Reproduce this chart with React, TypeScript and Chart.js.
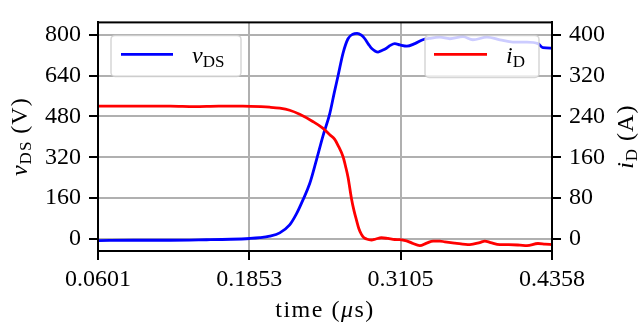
import { useEffect, useRef } from "react";
import { Chart, registerables } from "chart.js";

Chart.register(...registerables);

// ---- data (time in µs) ----
const timeV = [
  0.0601, 0.09, 0.12, 0.15, 0.17, 0.1856, 0.1939, 0.2022, 0.2105, 0.2187, 0.2243, 0.2298,
  0.2353, 0.2409, 0.2463, 0.2519, 0.2555, 0.2588, 0.2629, 0.267, 0.271, 0.2745, 0.278,
  0.2809, 0.284, 0.2864, 0.2919, 0.295, 0.2988, 0.302, 0.3057, 0.3099, 0.3157, 0.3223,
  0.3289, 0.334, 0.343, 0.3513, 0.3621, 0.3703, 0.3819, 0.3927, 0.4035, 0.4151, 0.4242,
  0.4283, 0.4358,
];
const vDS = [
  -6, -5, -5, -3, -1, 2, 5, 11, 24, 55, 98, 154,
  217, 310, 404, 491, 570, 640, 728, 784, 802, 805, 798,
  784, 762, 747, 732, 738, 747, 758, 765, 760, 755, 765,
  780, 785, 790, 784, 792, 780, 790, 780, 771, 771, 765,
  749, 747,
];

const timeI = [
  0.0601, 0.08, 0.1, 0.12, 0.14, 0.16, 0.18, 0.195, 0.2022, 0.2105, 0.2187, 0.227, 0.2378,
  0.2461, 0.2519, 0.256, 0.2588, 0.2629, 0.265, 0.267, 0.2698, 0.272, 0.274, 0.276, 0.2781,
  0.28, 0.2823, 0.2864, 0.29, 0.2946, 0.3, 0.3057, 0.3098, 0.3154, 0.32, 0.3264, 0.332,
  0.3375, 0.343, 0.3471, 0.3554, 0.3678, 0.376, 0.3802, 0.385, 0.3927, 0.4, 0.4093, 0.4151,
  0.4242, 0.43, 0.4358,
];
const iD = [
  260, 260, 260, 260, 259, 260, 260, 259, 258, 256, 252, 244, 230,
  217, 204, 195, 183, 161, 142, 121, 80, 55, 37, 20, 9,
  3, 0, -2, 0, 2.4, 1, -1, -1.3, -3.7, -8, -13, -8,
  -4, -4, -5.6, -8, -11, -7, -4, -7, -11, -11, -12, -13,
  -8.8, -10, -11,
];

const xTicks = [0.0601, 0.1853, 0.3105, 0.4358];
const xTickLabels = ["0.0601", "0.1853", "0.3105", "0.4358"];
const vTicks = [0, 160, 320, 480, 640, 800];
const iTicks = [0, 80, 160, 240, 320, 400];

const SERIF = '"Liberation Serif", "DejaVu Serif", serif';
const FS = 24;

type Seg = { t: string; it?: boolean; sub?: boolean };

function segFont(s: Seg, size: number) {
  const sz = s.sub ? Math.round(size * 0.7) : size;
  return `${s.it ? "italic " : ""}${sz}px ${SERIF}`;
}

function richWidth(ctx: CanvasRenderingContext2D, segs: Seg[], size: number, ls: number) {
  let w = 0;
  for (const s of segs) {
    ctx.font = segFont(s, size);
    w += ctx.measureText(s.t).width + ls * s.t.length;
  }
  return w;
}

function drawRich(
  ctx: CanvasRenderingContext2D,
  segs: Seg[],
  x: number,
  y: number,
  size: number,
  align: "left" | "center",
  ls = 0
) {
  const w = richWidth(ctx, segs, size, ls);
  let cx = align === "center" ? x - w / 2 : x;
  ctx.textAlign = "left";
  ctx.textBaseline = "alphabetic";
  for (const s of segs) {
    ctx.font = segFont(s, size);
    for (const ch of s.t) {
      ctx.fillText(ch, cx, y + (s.sub ? 4 : 0));
      cx += ctx.measureText(ch).width + ls;
    }
  }
}

function legendBox(
  ctx: CanvasRenderingContext2D,
  x: number,
  y: number,
  w: number,
  h: number,
  color: string,
  segs: Seg[],
  lineX0: number,
  lineX1: number,
  textX: number
) {
  ctx.save();
  ctx.beginPath();
  ctx.roundRect(x, y, w, h, 4);
  ctx.fillStyle = "rgba(255,255,255,0.8)";
  ctx.fill();
  ctx.strokeStyle = "rgba(204,204,204,0.8)";
  ctx.lineWidth = 1.5;
  ctx.stroke();
  ctx.beginPath();
  ctx.moveTo(x + lineX0, y + 19);
  ctx.lineTo(x + lineX1, y + 19);
  ctx.strokeStyle = color;
  ctx.lineWidth = 2.8;
  ctx.stroke();
  ctx.fillStyle = "#000";
  drawRich(ctx, segs, x + textX, y + 28, FS, "left");
  ctx.restore();
}

const overlay = {
  id: "overlay",
  afterDraw(chart: any) {
    const ctx: CanvasRenderingContext2D = chart.ctx;
    const a = chart.chartArea;
    ctx.save();
    ctx.strokeStyle = "#000";
    ctx.lineWidth = 2;
    ctx.strokeRect(a.left, a.top, a.right - a.left, a.bottom - a.top);

    legendBox(ctx, a.left + 13, a.top + 13, 130, 41, "#0000ff",
      [{ t: "v", it: true }, { t: "DS", sub: true }], 10, 62, 81);
    legendBox(ctx, a.right - 127, a.top + 13, 114, 42, "#ff0000",
      [{ t: "i", it: true }, { t: "D", sub: true }], 9, 62, 81);

    ctx.fillStyle = "#000";
    // x title
    drawRich(ctx, [{ t: "time (" }, { t: "μ", it: true }, { t: "s)" }],
      (a.left + a.right) / 2, 317, FS, "center", 1.5);
    const cy = (a.top + a.bottom) / 2;
    // left title
    ctx.save();
    ctx.translate(0, cy);
    ctx.rotate(-Math.PI / 2);
    drawRich(ctx, [{ t: "v", it: true }, { t: "DS", sub: true }, { t: " (V)" }], 0, 27, FS, "center", 1);
    ctx.restore();
    // right title
    ctx.save();
    ctx.translate(0, cy);
    ctx.rotate(-Math.PI / 2);
    drawRich(ctx, [{ t: "i", it: true }, { t: "D", sub: true }, { t: " (A)" }], 0, 633, FS, "center", 1);
    ctx.restore();
    ctx.restore();
  },
};

const tickFont = { family: SERIF, size: FS };
const gridBase = {
  color: "#b0b0b0",
  lineWidth: 2,
  tickColor: "#000",
  tickLength: 9,
  tickWidth: 2,
};

export default function App() {
  const ref = useRef<HTMLCanvasElement>(null);
  useEffect(() => {
    if (!ref.current) return;
    const chart = new Chart(ref.current, {
      type: "line",
      data: {
        datasets: [
          {
            label: "vDS",
            data: timeV.map((t, i) => ({ x: t, y: vDS[i] })),
            borderColor: "#0000ff",
            borderWidth: 2.8,
            pointRadius: 0,
            fill: false,
            cubicInterpolationMode: "monotone",
            yAxisID: "y",
            order: 2,
          },
          {
            label: "iD",
            data: timeI.map((t, i) => ({ x: t, y: iD[i] })),
            borderColor: "#ff0000",
            borderWidth: 2.8,
            pointRadius: 0,
            fill: false,
            cubicInterpolationMode: "monotone",
            yAxisID: "y2",
            order: 1,
          },
        ],
      },
      options: {
        animation: false,
        responsive: false,
        events: [],
        layout: { padding: { top: 10, left: 0, right: 0, bottom: 0 } },
        plugins: { legend: { display: false }, tooltip: { enabled: false } },
        scales: {
          x: {
            type: "linear",
            min: 0.0601,
            max: 0.4358,
            afterBuildTicks: (s: any) => {
              s.ticks = xTicks.map((v) => ({ value: v }));
            },
            afterFit: (s: any) => {
              s.height = 78;
            },
            ticks: {
              callback: (_v: any, i: number) => xTickLabels[i],
              font: tickFont,
              color: "#000",
              padding: 5,
              maxRotation: 0,
              autoSkip: false,
            },
            grid: gridBase,
            border: { color: "#000", width: 2 },
          },
          y: {
            type: "linear",
            position: "left",
            min: -47,
            max: 848,
            afterBuildTicks: (s: any) => {
              s.ticks = vTicks.map((v) => ({ value: v }));
            },
            afterFit: (s: any) => {
              s.width = 98;
            },
            ticks: { font: tickFont, color: "#000", padding: 8, autoSkip: false },
            grid: gridBase,
            border: { color: "#000", width: 2 },
          },
          y2: {
            type: "linear",
            position: "right",
            min: -23.5,
            max: 424,
            afterBuildTicks: (s: any) => {
              s.ticks = iTicks.map((v) => ({ value: v }));
            },
            afterFit: (s: any) => {
              s.width = 89;
            },
            ticks: { font: tickFont, color: "#000", padding: 8, autoSkip: false },
            grid: { ...gridBase, drawOnChartArea: false },
            border: { color: "#000", width: 2 },
          },
        },
      },
      plugins: [overlay],
    } as any);
    return () => chart.destroy();
  }, []);
  return (
    <div style={{ position: "fixed", left: 0, top: 0, width: 641, height: 329, background: "#fff" }}>
      <canvas ref={ref} width={641} height={329} style={{ display: "block" }} />
    </div>
  );
}
